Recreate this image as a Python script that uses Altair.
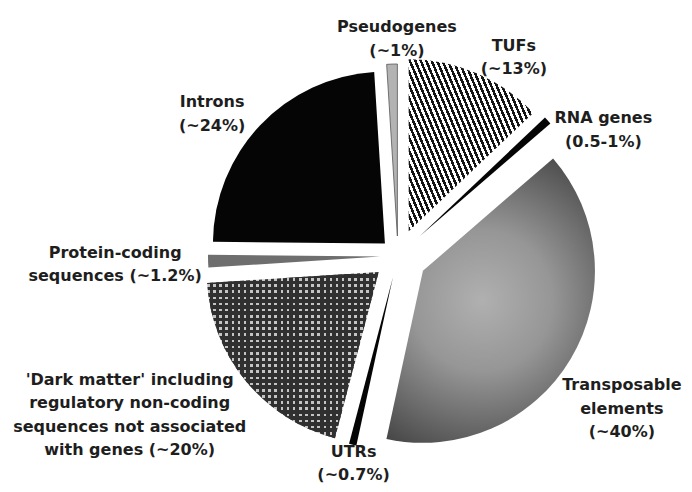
import altair as alt
import pandas as pd

# ---- data ----
categories = ["TUFs", "RNA genes", "Transposable elements", "UTRs",
              "Dark matter", "Protein-coding sequences", "Introns", "Pseudogenes"]
values = [13, 0.75, 40, 0.7, 20, 1.2, 24, 1]
labels = ["TUFs\n(~13%)",
          "RNA genes\n(0.5-1%)",
          "Transposable\nelements\n(~40%)",
          "UTRs\n(~0.7%)",
          "'Dark matter' including\nregulatory non-coding\nsequences not associated\nwith genes (~20%)",
          "Protein-coding\nsequences  (~1.2%)",
          "Introns\n(~24%)",
          "Pseudogenes\n(~1%)"]

# ---- styling / layout parameters ----
explode = [27, 30, 29, 22, 25, 18, 18, 20]          # px pulled out of the pie
label_radius = [230, 241, 271, 212, 312, 283, 234, 217]
label_turn = [7, 10.6, 3.6, -1.4, 8.8, -0.2, -6.1, 1.5]  # degrees
CX, CY, R = 390, 248, 172
W, H = 676, 476
LH = 23.5

df = pd.DataFrame({
    "category": categories,
    "value": values,
    "label": labels,
    "order": list(range(len(categories))),
    "explode": explode,
    "lr": label_radius,
    "lt": label_turn,
})


def stripes(n, c1, c2, frac, x1, y1, x2, y2):
    stops = []
    for i in range(n):
        a = i / n
        b = (i + frac) / n
        e = (i + 1) / n
        stops += [{"offset": a, "color": c1}, {"offset": b, "color": c1},
                  {"offset": b, "color": c2}, {"offset": e, "color": c2}]
    return {"gradient": "linear", "x1": x1, "y1": y1, "x2": x2, "y2": y2,
            "stops": stops}


base = (
    alt.Chart(df)
    .transform_joinaggregate(total="sum(value)")
    .transform_window(cum="sum(value)", sort=[alt.SortField("order")], frame=[None, 0])
    .transform_calculate(t0="(datum.cum - datum.value) / datum.total * 2 * PI")
    .transform_calculate(t1="datum.cum / datum.total * 2 * PI")
    .transform_calculate(mid="(datum.t0 + datum.t1) / 2")
    .transform_calculate(cx=f"{CX} + datum.explode * sin(datum.mid)")
    .transform_calculate(cy=f"{CY} - datum.explode * cos(datum.mid)")
    .transform_calculate(nl="length(split(datum.label, '\\n'))")
    .transform_calculate(lx=f"{CX} + datum.lr * sin(datum.mid + datum.lt * PI / 180)")
    .transform_calculate(
        ly=f"{CY} - datum.lr * cos(datum.mid + datum.lt * PI / 180) - (datum.nl - 1) * {LH} / 2"
    )
)


def slice_layer(cat, **mark_kw):
    return (
        base.transform_filter(alt.datum.category == cat)
        .mark_arc(radius=R, **mark_kw)
        .encode(
            x=alt.X("cx:Q", scale=None, axis=None),
            y=alt.Y("cy:Q", scale=None, axis=None),
            theta=alt.Theta("t0:Q", scale=None, stack=False),
            theta2="t1:Q",
        )
    )


tufs_fill = stripes(36, "#151515", "#ffffff", 0.5, 0, 1, 1.183, 0.319)
te_fill = {"gradient": "radial", "x1": 0.47, "y1": 0.5, "r1": 0,
           "x2": 0.47, "y2": 0.5, "r2": 0.62,
           "stops": [{"offset": 0, "color": "#b0b0b0"},
                     {"offset": 0.4, "color": "#969696"},
                     {"offset": 1, "color": "#404040"}]}
dark_base = stripes(28, "#c4c4c4", "#303030", 0.42, 0, 0, 1, 0)
dark_over = stripes(27, "rgba(48,48,48,0)", "#303030", 0.42, 0, 0, 0, 1)

layers = [
    slice_layer("TUFs", fill=tufs_fill),
    slice_layer("RNA genes", fill="#050505"),
    slice_layer("Transposable elements", fill=te_fill),
    slice_layer("UTRs", fill="#050505"),
    slice_layer("Dark matter", fill=dark_base),
    slice_layer("Dark matter", fill=dark_over),
    slice_layer("Protein-coding sequences", fill="#6e6e6e"),
    slice_layer("Introns", fill="#050505"),
    slice_layer("Pseudogenes", fill="#b3b3b3", stroke="#555555", strokeWidth=0.8),
]

text = base.mark_text(
    font="DejaVu Sans", fontSize=16, fontWeight="bold", lineBreak="\n",
    lineHeight=LH, align="center", baseline="middle", color="#1e1e1e",
).encode(
    x=alt.X("lx:Q", scale=None, axis=None),
    y=alt.Y("ly:Q", scale=None, axis=None),
    text="label:N",
)

chart = (
    alt.layer(*layers, text)
    .properties(width=W, height=H, padding=0, autosize="none", background="white")
    .configure_view(stroke=None)
)

chart.save("out.html", embed_options={"renderer": "svg", "actions": False})
